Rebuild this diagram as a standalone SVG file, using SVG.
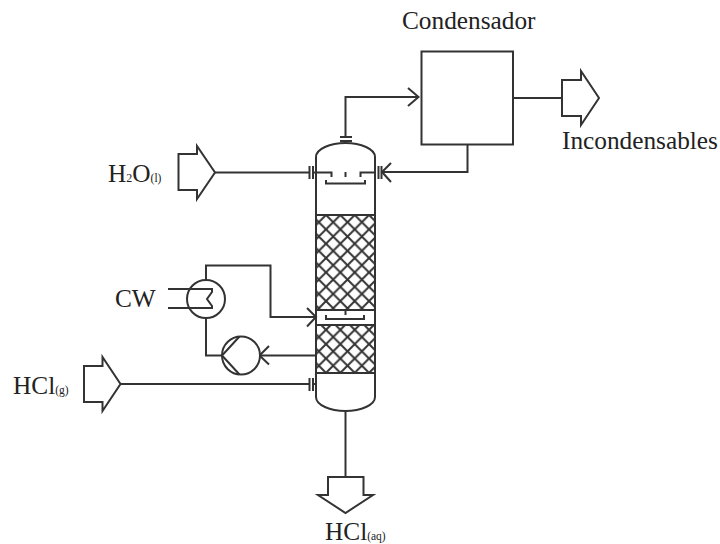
<svg xmlns="http://www.w3.org/2000/svg" width="720" height="544" viewBox="0 0 720 544">
<style>
.l{fill:none;stroke:#333;stroke-width:2;stroke-linejoin:miter}
.f{fill:#fff;stroke:#333;stroke-width:2}
.t{font-family:"Liberation Serif","Times New Roman",serif;font-size:25.3px;fill:#222}
.s{font-size:11.5px}
.m{font-size:12px}
</style>
<defs>
<pattern id="hatch" patternUnits="userSpaceOnUse" x="326" y="215" width="14.35" height="14.35">
<path d="M0 0L14.35 14.35M14.35 0L0 14.35" fill="none" stroke="#333" stroke-width="2"/>
</pattern>
</defs>
<rect width="720" height="544" fill="#fff"/>
<g id="connectors" class="l">
<path class="l" d="M345.5 137V97H418"/>
<path class="l" d="M408 88L418.500 97L408 106"/>
<path class="l" d="M513 98H562"/>
<path class="l" d="M467.500 144.500V172H382"/>
<path class="l" d="M391 163L382 172L391 182"/>
<path class="l" d="M215 172.500H309M313 172.500H316"/>
<path class="l" d="M120.500 384H309M313 384H316"/>
<path class="l" d="M345.500 411V477"/>
<path class="l" d="M206 280V265.500H270.500V317H315"/>
<path class="l" d="M307 308L316 317L307 326.500"/>
<path class="l" d="M206 318V355.500H222"/>
<path class="l" d="M316 355.500H260"/>
<path class="l" d="M269 346L259.500 355.500L269 364.500"/>
<path class="l" d="M309.500 166V179M313 166V179"/>
<path class="l" d="M378.500 166V179M381.500 166V179"/>
<path class="l" d="M309.500 378V391M313 378V391"/>
<path class="l" d="M340 137H352M340 141H352"/>
</g>
<g id="column">
<path class="l" d="M316 215V157C316 149 330 143 345.500 143C361 143 375 149 375 157V215"/>
<path class="l" d="M316 373V397C316 405 330 411 345.500 411C361 411 375 405 375 397V373"/>
<rect x="316" y="215" width="59" height="95" fill="url(#hatch)"/>
<rect x="316" y="325" width="59" height="48" fill="url(#hatch)"/>
<path class="l" d="M316 215V373M375 215V373M316 215H375M316 310H375M316 325H375M316 373H375"/>
<path class="l" d="M316 172.500H331.500V177M375 172.500H360.500V177M345.500 172V177"/>
<path class="l" d="M326 180V183.500H365V180"/>
<path class="l" d="M345.500 310V315M326 315V319H364V315"/>
</g>
<g id="condensador">
<rect class="f" x="421.500" y="51.500" width="91.500" height="93"/>
<text class="t" x="402" y="29">Condensador</text>
</g>
<g id="incondensables">
<path class="f" d="M562 80H581V71L599 98L581 125V116H562Z"/>
<text class="t" x="562" y="149">Incondensables</text>
</g>
<g id="h2o">
<path class="f" d="M178.500 154H197V146L215 172.500L197 199V190H178.500Z"/>
<text class="t" x="108" y="181.500">H<tspan class="m">2</tspan>O<tspan class="s">(l)</tspan></text>
</g>
<g id="hcl-g">
<path class="f" d="M84 366H102.500V357L120.500 384L102.500 411V402H84Z"/>
<text class="t" x="13" y="394">HCl<tspan class="s">(g)</tspan></text>
</g>
<g id="hcl-aq">
<path class="f" d="M328 477H363.500V495H373L345.500 513L318 495H328Z"/>
<text class="t" x="325" y="540">HCl<tspan class="s">(aq)</tspan></text>
</g>
<g id="cw">
<circle class="f" cx="206" cy="299" r="19"/>
<path class="l" d="M168 289H212V292L207 299L212 306V308H168"/>
<text class="t" x="115" y="307">CW</text>
</g>
<g id="pump">
<circle class="f" cx="241" cy="355.500" r="19"/>
<path class="l" d="M239.500 336.500L222 355.500L239.500 374.500"/>
</g>
</svg>
